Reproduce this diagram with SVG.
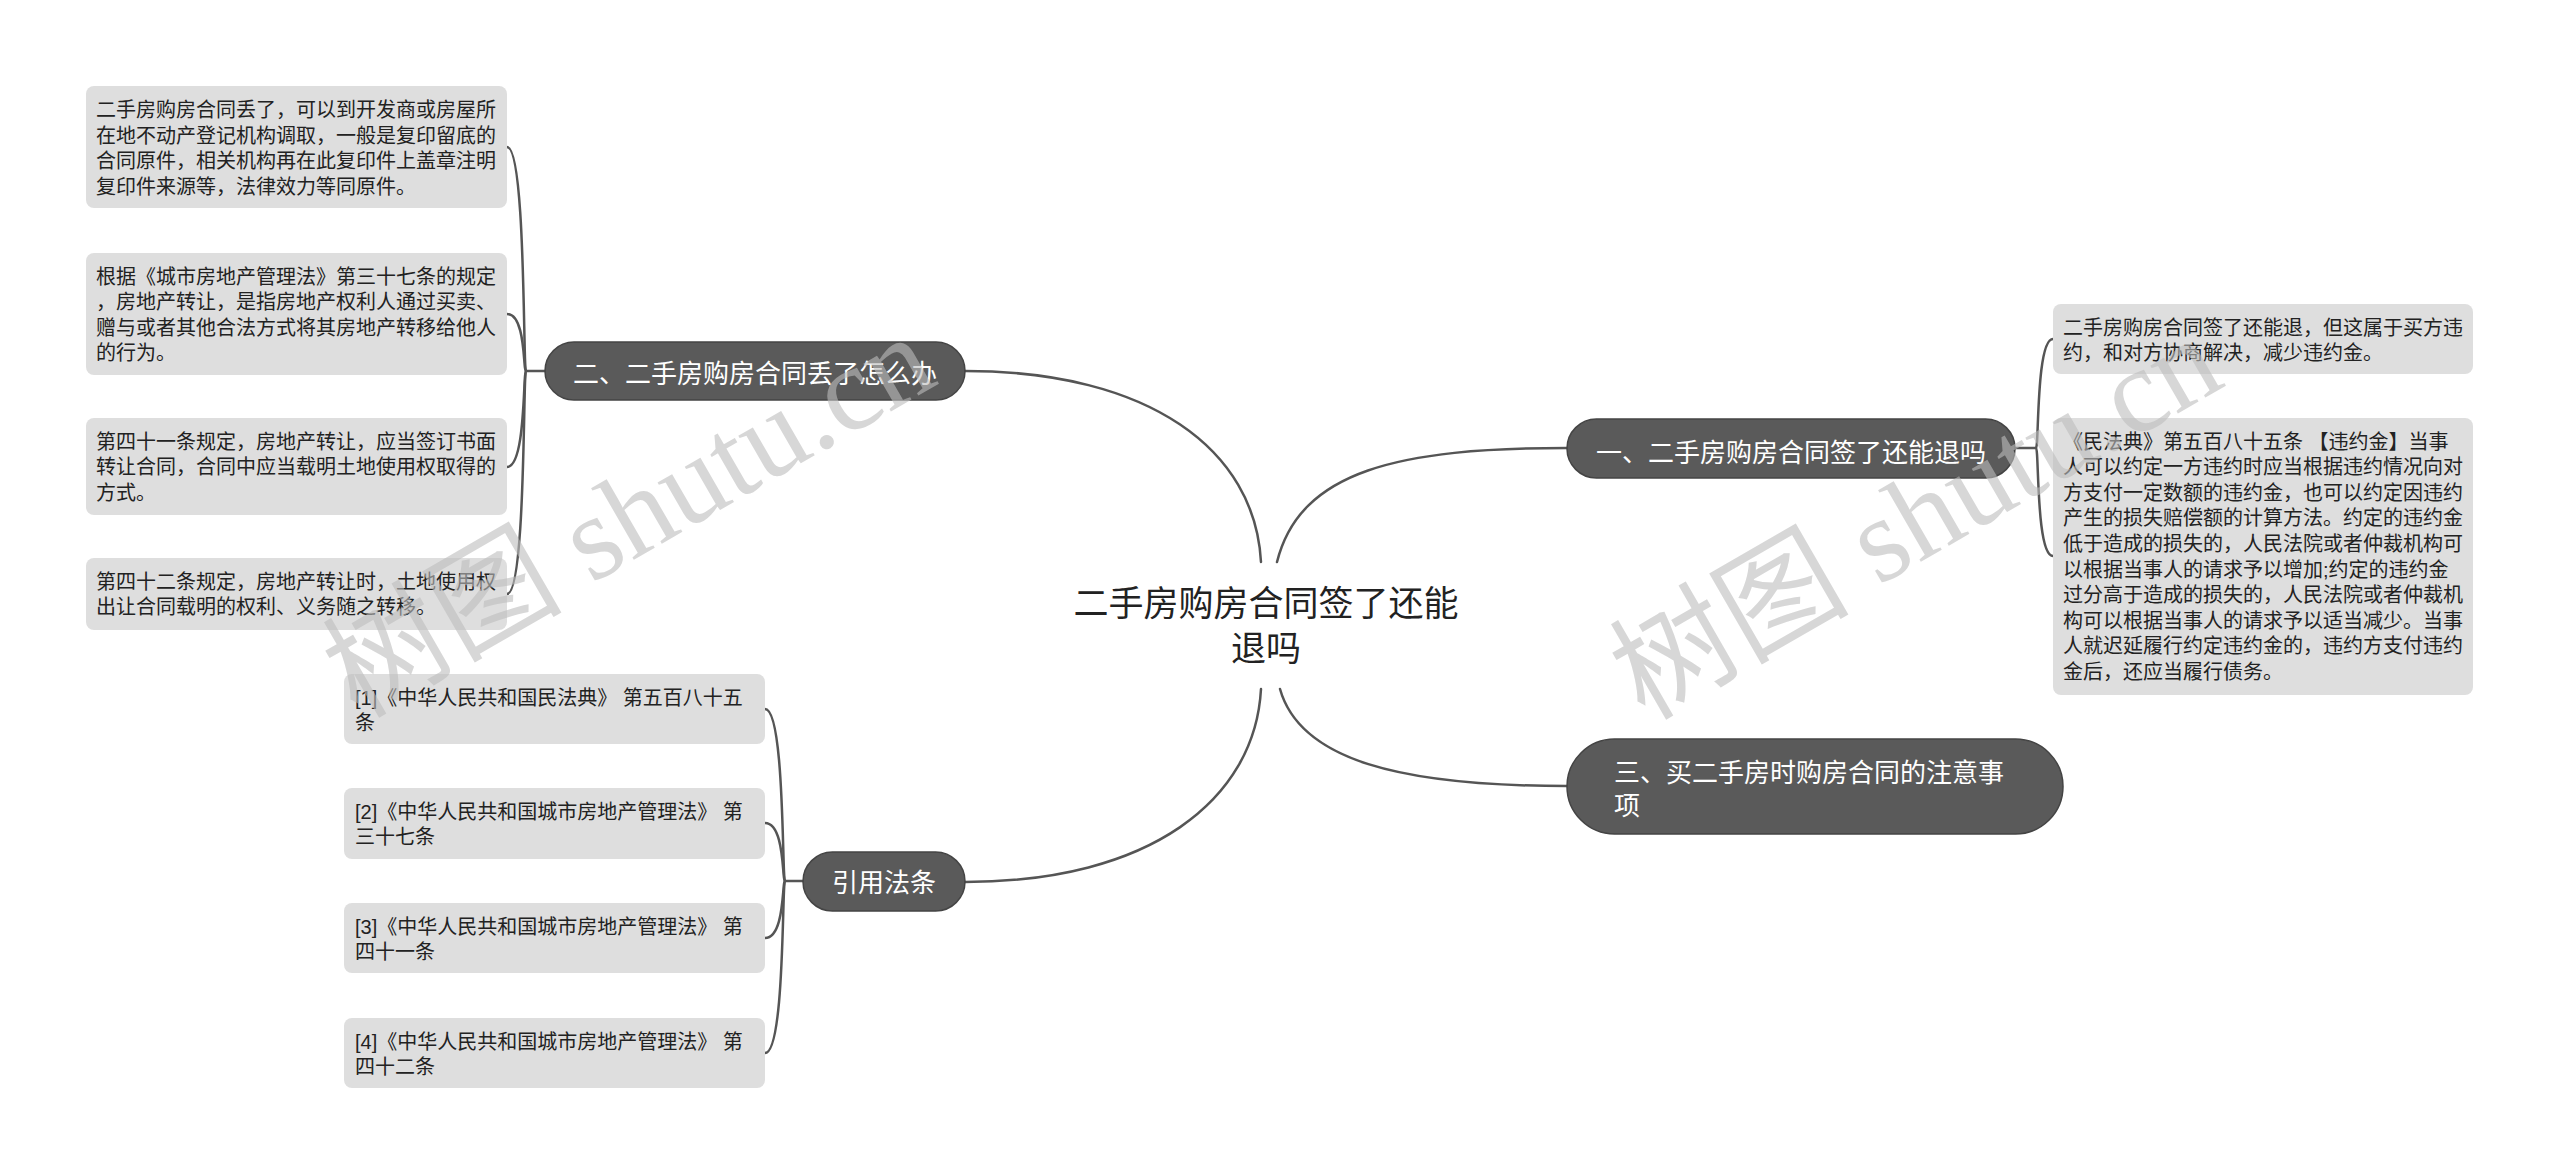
<svg xmlns="http://www.w3.org/2000/svg" width="2560" height="1175" viewBox="0 0 2560 1175">
<style>
.leaf{fill:#dedede}
.lt{font-family:"Liberation Sans","Noto Sans CJK SC",sans-serif;font-size:20px;fill:#222}
.br{fill:#5a5a5a;stroke:#444;stroke-width:1.5}
.bt{font-family:"Liberation Sans","Noto Sans CJK SC",sans-serif;font-size:26px;fill:#fff}
.ct{font-family:"Liberation Sans","Noto Sans CJK SC",sans-serif;font-size:35px;fill:#222}
.wm{font-family:"Liberation Serif","Noto Sans CJK SC",serif;font-size:120px;fill:#bdbdbd;opacity:0.6}
#connectors path{fill:none;stroke:#555;stroke-width:2.5;stroke-linecap:round}
</style>
<rect width="2560" height="1175" fill="#fff"/>
<g id="connectors">
<path d="M 965 371 C 1150 371 1255 450 1261 562"/>
<path d="M 1277 562 C 1300 470 1400 448 1567 448"/>
<path d="M 1280 689 C 1300 760 1400 786 1567 786"/>
<path d="M 1261 689 C 1255 800 1150 882 965 882"/>
<path d="M 545 371 H 526"/>
<path d="M 526 371 C 523 371 526 147 507 147"/>
<path d="M 526 371 C 523 371 526 314 507 314"/>
<path d="M 526 371 C 523 371 526 467 507 467"/>
<path d="M 526 371 C 523 371 526 594 507 594"/>
<path d="M 2015 448 H 2036"/>
<path d="M 2036 448 C 2039 448 2036 339 2053 339"/>
<path d="M 2036 448 C 2039 448 2036 556 2053 556"/>
<path d="M 803 881 H 785"/>
<path d="M 785 881 C 782 881 785 709 765 709"/>
<path d="M 785 881 C 782 881 785 823 765 823"/>
<path d="M 785 881 C 782 881 785 938 765 938"/>
<path d="M 785 881 C 782 881 785 1053 765 1053"/>
</g>
<g id="center">
<text class="ct" text-anchor="middle"><tspan x="1266" y="616">二手房购房合同签了还能</tspan><tspan x="1266" y="661">退吗</tspan></text>
</g>
<g id="branch-2">
<rect class="br" x="545" y="342" width="420" height="58" rx="29"/>
<text class="bt" x="755" y="383" text-anchor="middle">二、二手房购房合同丢了怎么办</text>
</g>
<g id="branch-1">
<rect class="br" x="1567" y="419" width="448" height="59" rx="29.5"/>
<text class="bt" x="1791" y="462" text-anchor="middle">一、二手房购房合同签了还能退吗</text>
</g>
<g id="branch-3">
<rect class="br" x="1567" y="739" width="496" height="95" rx="47.5"/>
<text class="bt"><tspan x="1614" y="782">三、买二手房时购房合同的注意事</tspan><tspan x="1614" y="815">项</tspan></text>
</g>
<g id="branch-refs">
<rect class="br" x="803" y="852" width="162" height="59" rx="29.5"/>
<text class="bt" x="884" y="892" text-anchor="middle">引用法条</text>
</g>
<g id="leaf-2-1">
<rect class="leaf" x="86" y="86" width="421" height="122" rx="8"/>
<text class="lt"><tspan x="96" y="117">二手房购房合同丢了，可以到开发商或房屋所</tspan><tspan x="96" dy="25.6">在地不动产登记机构调取，一般是复印留底的</tspan><tspan x="96" dy="25.6">合同原件，相关机构再在此复印件上盖章注明</tspan><tspan x="96" dy="25.6">复印件来源等，法律效力等同原件。</tspan></text>
</g>
<g id="leaf-2-2">
<rect class="leaf" x="86" y="253" width="421" height="122" rx="8"/>
<text class="lt"><tspan x="96" y="283.5">根据《城市房地产管理法》第三十七条的规定</tspan><tspan x="96" dy="25.6">，房地产转让，是指房地产权利人通过买卖、</tspan><tspan x="96" dy="25.6">赠与或者其他合法方式将其房地产转移给他人</tspan><tspan x="96" dy="25.6">的行为。</tspan></text>
</g>
<g id="leaf-2-3">
<rect class="leaf" x="86" y="418" width="421" height="97" rx="8"/>
<text class="lt"><tspan x="96" y="448.5">第四十一条规定，房地产转让，应当签订书面</tspan><tspan x="96" dy="25.6">转让合同，合同中应当载明土地使用权取得的</tspan><tspan x="96" dy="25.6">方式。</tspan></text>
</g>
<g id="leaf-2-4">
<rect class="leaf" x="86" y="558" width="421" height="72" rx="8"/>
<text class="lt"><tspan x="96" y="588.5">第四十二条规定，房地产转让时，土地使用权</tspan><tspan x="96" dy="25.6">出让合同载明的权利、义务随之转移。</tspan></text>
</g>
<g id="leaf-1-1">
<rect class="leaf" x="2053" y="304" width="420" height="70" rx="8"/>
<text class="lt"><tspan x="2063" y="334.5">二手房购房合同签了还能退，但这属于买方违</tspan><tspan x="2063" dy="25.6">约，和对方协商解决，减少违约金。</tspan></text>
</g>
<g id="leaf-1-2">
<rect class="leaf" x="2053" y="418" width="420" height="277" rx="8"/>
<text class="lt" xml:space="preserve"><tspan x="2063" y="448.5">《民法典》第五百八十五条 【违约金】当事</tspan><tspan x="2063" dy="25.6">人可以约定一方违约时应当根据违约情况向对</tspan><tspan x="2063" dy="25.6">方支付一定数额的违约金，也可以约定因违约</tspan><tspan x="2063" dy="25.6">产生的损失赔偿额的计算方法。约定的违约金</tspan><tspan x="2063" dy="25.6">低于造成的损失的，人民法院或者仲裁机构可</tspan><tspan x="2063" dy="25.6">以根据当事人的请求予以增加;约定的违约金</tspan><tspan x="2063" dy="25.6">过分高于造成的损失的，人民法院或者仲裁机</tspan><tspan x="2063" dy="25.6">构可以根据当事人的请求予以适当减少。当事</tspan><tspan x="2063" dy="25.6">人就迟延履行约定违约金的，违约方支付违约</tspan><tspan x="2063" dy="25.6">金后，还应当履行债务。</tspan></text>
</g>
<g id="ref-1">
<rect class="leaf" x="344" y="674" width="421" height="70" rx="8"/>
<text class="lt" xml:space="preserve"><tspan x="355" y="704.5">[1]《中华人民共和国民法典》 第五百八十五</tspan><tspan x="355" dy="25.6">条</tspan></text>
</g>
<g id="ref-2">
<rect class="leaf" x="344" y="788" width="421" height="71" rx="8"/>
<text class="lt" xml:space="preserve"><tspan x="355" y="818.5">[2]《中华人民共和国城市房地产管理法》 第</tspan><tspan x="355" dy="25.6">三十七条</tspan></text>
</g>
<g id="ref-3">
<rect class="leaf" x="344" y="903" width="421" height="70" rx="8"/>
<text class="lt" xml:space="preserve"><tspan x="355" y="933.5">[3]《中华人民共和国城市房地产管理法》 第</tspan><tspan x="355" dy="25.6">四十一条</tspan></text>
</g>
<g id="ref-4">
<rect class="leaf" x="344" y="1018" width="421" height="70" rx="8"/>
<text class="lt" xml:space="preserve"><tspan x="355" y="1048.5">[4]《中华人民共和国城市房地产管理法》 第</tspan><tspan x="355" dy="25.6">四十二条</tspan></text>
</g>
<g id="watermark">
<text class="wm" x="649" y="551" text-anchor="middle" transform="rotate(-30 649 551)">树图 shutu.cn</text>
<text class="wm" x="1936" y="553" text-anchor="middle" transform="rotate(-30 1936 553)">树图 shutu.cn</text>
</g>
</svg>
